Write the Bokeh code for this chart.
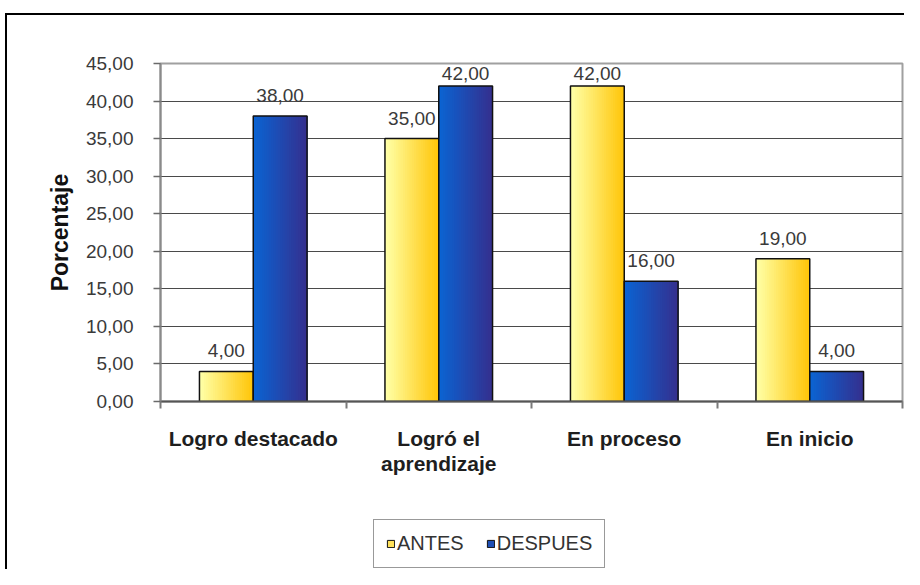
import numpy as np
from bokeh.plotting import figure
from bokeh.layouts import column
from bokeh.models import (ColumnDataSource, FixedTicker, Legend, LegendItem, Range1d)
from bokeh.embed import file_html
from bokeh.resources import INLINE

# ---- data ----
categories = ["Logro destacado", "Logró el\naprendizaje", "En proceso", "En inicio"]
antes = [4.0, 35.0, 42.0, 19.0]
despues = [38.0, 42.0, 16.0, 4.0]
series_names = ["ANTES", "DESPUES"]
y_ticks = [0, 5, 10, 15, 20, 25, 30, 35, 40, 45]
y_tick_labels = ["0,00", "5,00", "10,00", "15,00", "20,00", "25,00", "30,00", "35,00", "40,00", "45,00"]

# ---- style ----
FONT = "Liberation Sans"
W = 904
H1, H2 = 490, 79
FRAME_TOP, FRAME_BOTTOM = 63, 401
Y_MAX = 45
BAR_W = 0.29
LABEL_GAP = 14
grad = {
    "ANTES": ("#ffffa6", "#ffc60a"),
    "DESPUES": ("#0b63d2", "#34308f"),
}
legend_fill = {"ANTES": "#ffe15a", "DESPUES": "#1f4fb4"}


def hex2rgb(h):
    h = h.lstrip("#")
    return np.array([int(h[i:i + 2], 16) for i in (0, 2, 4)], dtype=float)


def rgb2hex(c):
    return "#%02x%02x%02x" % tuple(int(round(v)) for v in c)


def fmt(v):
    return f"{v:.2f}".replace(".", ",")


p1 = figure(width=W, height=H1, x_range=Range1d(0, len(categories)), y_range=Range1d(0, Y_MAX),
            output_backend="svg", toolbar_location=None,
            min_border_left=160, min_border_right=2, min_border_top=FRAME_TOP,
            min_border_bottom=H1 - FRAME_BOTTOM)
p1.background_fill_color = "white"
p1.border_fill_color = None
p1.outline_line_color = "#a0a0a0"
p1.outline_line_width = 2

# grid
p1.xgrid.grid_line_color = None
p1.ygrid.grid_line_color = "#4a4a4a"
p1.ygrid.grid_line_width = 1
p1.ygrid.ticker = FixedTicker(ticks=y_ticks)

# y axis
ya = p1.yaxis[0]
ya.ticker = FixedTicker(ticks=y_ticks)
ya.major_label_overrides = {t: l for t, l in zip(y_ticks, y_tick_labels)}
ya.major_label_text_font = FONT
ya.major_label_text_font_size = "19px"
ya.major_label_text_color = "#3a3a3a"
ya.major_label_standoff = 20
ya.major_tick_out = 7
ya.major_tick_in = 0
ya.major_tick_line_color = "#6a6a6a"
ya.major_tick_line_width = 1.5
ya.minor_tick_line_color = None
ya.axis_line_color = "#8a8a8a"
ya.axis_line_width = 2
ya.axis_label = "Porcentaje"
ya.axis_label_text_font = FONT
ya.axis_label_text_font_size = "23px"
ya.axis_label_text_font_style = "bold"
ya.axis_label_text_color = "#111111"
ya.axis_label_standoff = 10

# x axis
centers = [i + 0.5 for i in range(len(categories))]
bounds = list(range(len(categories) + 1))
xa = p1.xaxis[0]
xa.ticker = FixedTicker(ticks=centers, minor_ticks=bounds)
xa.major_label_overrides = {c: n for c, n in zip(centers, categories)}
xa.major_label_text_font = FONT
xa.major_label_text_font_size = "21px"
xa.major_label_text_font_style = "bold"
xa.major_label_text_color = "#1e1e1e"
xa.major_label_text_line_height = 1.1
xa.major_label_standoff = 18
xa.major_tick_line_color = None
xa.major_tick_out = 0
xa.major_tick_in = 0
xa.minor_tick_line_color = "#7a7a7a"
xa.minor_tick_line_width = 2
xa.minor_tick_out = 7
xa.minor_tick_in = 0
xa.axis_line_color = "#555555"
xa.axis_line_width = 2

# bars
series = {"ANTES": antes, "DESPUES": despues}
offsets = {"ANTES": -BAR_W / 2, "DESPUES": BAR_W / 2}
px_per_unit = (FRAME_BOTTOM - FRAME_TOP) / Y_MAX
N = 24
for name in series_names:
    vals = series[name]
    xs = [c + offsets[name] for c in centers]
    c0, c1 = hex2rgb(grad[name][0]), hex2rgb(grad[name][1])
    L, R, T, B, C = [], [], [], [], []
    for x, v in zip(xs, vals):
        left = x - BAR_W / 2
        right = x + BAR_W / 2
        for k in range(N):
            t = k / (N - 1)
            L.append(left + (right - left) * k / N)
            R.append(right)
            T.append(v)
            B.append(0)
            C.append(rgb2hex(c0 + (c1 - c0) * t))
    p1.quad(left=L, right=R, top=T, bottom=B, fill_color=C, line_color=None)
    p1.vbar(x=xs, top=vals, width=BAR_W, bottom=0, fill_color=None,
            line_color="#111111", line_width=1.5)
    # labels sit LABEL_GAP px above the bar, but stay inside the plot area
    yoff = [-min(LABEL_GAP, (Y_MAX - v) * px_per_unit - 16) for v in vals]
    lab = ColumnDataSource(dict(x=xs, y=vals, t=[fmt(v) for v in vals], yo=yoff))
    p1.text(x="x", y="y", text="t", source=lab, text_align="center",
            text_baseline="bottom", y_offset="yo", text_font_size="19px",
            text_color="#3a3a3a", text_font={"value": FONT})

# legend strip (second figure, no axes)
p2 = figure(width=W, height=H2, x_range=Range1d(0, 1), y_range=Range1d(0, 1),
            output_backend="svg", toolbar_location=None,
            x_axis_location=None, y_axis_location=None,
            min_border_left=0, min_border_right=0, min_border_top=0, min_border_bottom=0)
p2.background_fill_color = None
p2.border_fill_color = None
p2.outline_line_color = None
p2.grid.visible = False
legend_items = []
for name in series_names:
    r = p2.vbar(x=[-5], top=[-5], bottom=[-6], width=0.1, fill_color=legend_fill[name],
                line_color="#111111", line_width=1)
    legend_items.append(LegendItem(label=name, renderers=[r]))
legend = Legend(items=legend_items, location=(213, 1), orientation="horizontal",
                label_text_font=FONT, label_text_font_size="20px", label_text_color="#333333",
                glyph_width=9, glyph_height=9, label_standoff=2, spacing=22,
                padding=12, margin=0, border_line_color="#333333", border_line_width=1,
                background_fill_color="white", background_fill_alpha=1.0)
p2.add_layout(legend, "center")

layout = column(p1, p2, spacing=0)
# outer chart border (top and left edges)
layout.styles = {
    "background-color": "white",
    "background-image": "linear-gradient(#000,#000), linear-gradient(#000,#000)",
    "background-size": "2px 100%, 100% 2px",
    "background-position": "5px 13px, 5px 13px",
    "background-repeat": "no-repeat",
}

open("out.html", "w").write(file_html(layout, INLINE))
